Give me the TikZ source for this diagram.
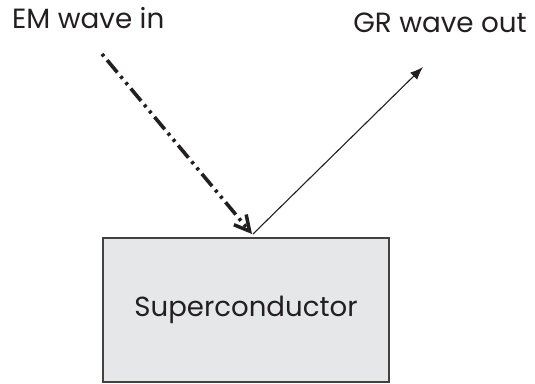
\documentclass[tikz,border=0pt]{standalone}
\usepackage{fontspec}
\setmainfont{Poppins}
\usetikzlibrary{arrows.meta}
\definecolor{boxfill}{HTML}{E6E7E8}
\definecolor{ink}{HTML}{231F20}
\tikzset{
  lbl/.style={font=\fontsize{27.8}{33}\selectfont, text=ink, inner sep=0pt},
  sbox/.style={draw=ink!85, fill=boxfill, line width=1.3pt, minimum width=286pt, minimum height=144pt, inner sep=0pt, font=\fontsize{27.6}{33}\selectfont, text=ink},
  emwave/.style={draw=ink, line width=3.6pt, dash pattern=on 3pt off 5pt on 16pt off 5pt on 3pt off 5pt, -{Straight Barb[length=15pt,width=16pt,line width=3.5pt]}},
  grwave/.style={draw=ink, line width=1.1pt, -{Latex[length=13pt,width=10pt]}}
}
\begin{document}
\begin{tikzpicture}[x=1pt,y=-1pt]
\useasboundingbox (0,0) rectangle (535,383);
\node[sbox] (sc) at (246,310) {Superconductor};
\node[lbl, anchor=base west] (emlbl) at (12,28) {EM wave in};
\node[lbl, anchor=base east] (grlbl) at (527,32) {GR wave out};
\coordinate (emstart) at (102,54);
\coordinate (hit) at (252,234);
\coordinate (grend) at (423,67);
\draw[emwave] (emstart) -- (hit);
\draw[grwave] ([xshift=1pt]hit) -- (grend);
\end{tikzpicture}
\end{document}
